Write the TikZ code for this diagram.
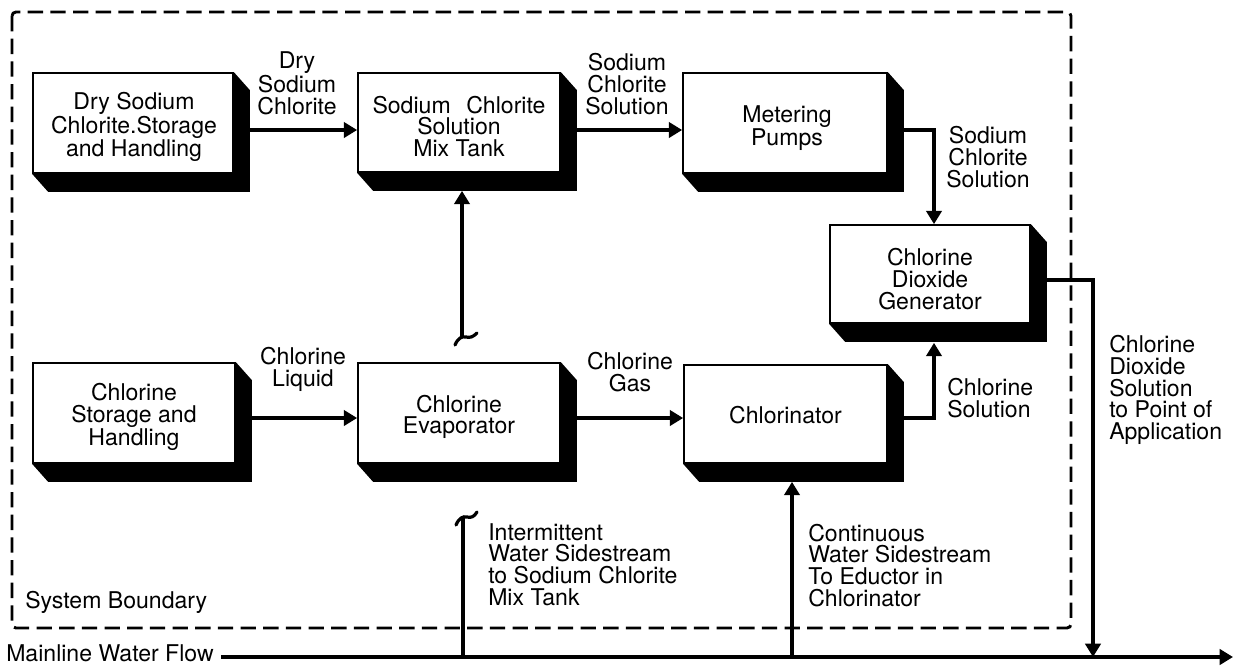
\documentclass[tikz,border=0pt]{standalone}
\usepackage{fontspec}
\setmainfont{TeX Gyre Heros}
\usetikzlibrary{arrows.meta,fit,calc}
\newcommand\diagfont{\fontsize{17.3}{16.3}\selectfont}
% solid bevelled shadow on the right and bottom of a unit box
\newcommand\castshadow[1]{%
  \fill (#1.north east) -- ++(16,18) -- ($(#1.south east)+(16,18)$)
        -- ($(#1.south west)+(16,18)$) -- (#1.south west) -- (#1.south east) -- cycle;}
\begin{document}
\begin{tikzpicture}[x=0.75pt,y=-0.75pt,
  unit/.style={draw, line width=1.3pt, fill=white, inner sep=0pt},
  unittext/.style={inner sep=0pt, align=center, font=\diagfont},
  flow/.style={line width=2.4pt, -{Triangle[length=10pt,width=11.5pt]}},
  pipe/.style={line width=2.4pt},
  lbl/.style={inner sep=0pt, font=\diagfont},
  boundary/.style={line width=2.2pt, dash pattern=on 11.5pt off 5.5pt, rounded corners=3pt}]
\useasboundingbox (0,0) rectangle (1235,668);

% system boundary
\draw[boundary] (12,12) rectangle (1071,628);
\node[lbl, anchor=base west] (sysb) at (25,608) {System Boundary};

% process units
\node[unit, fit={(33,73) (233,173)}] (dry) {};
\node[unit, fit={(358,73) (560,172)}] (mix) {};
\node[unit, fit={(683,73) (887,173)}] (meter) {};
\node[unit, fit={(830,225) (1030,323)}] (gen) {};
\node[unit, fit={(33,363) (235,463)}] (store) {};
\node[unit, fit={(358,363) (560,463)}] (evap) {};
\node[unit, fit={(684,365) (887,463)}] (chl) {};
\foreach \b in {dry,mix,meter,gen,store,evap,chl} {\castshadow{\b}}

% unit names
\node[unittext] (drytxt) at ($(dry.center)+(1,4)$) {Dry Sodium\\Chlorite.Storage\\and Handling};
\node[unittext] (mixtxt) at ($(mix.center)+(0,4)$) {Sodium\hspace{0.4em} Chlorite\\Solution\\Mix Tank};
\node[unittext] (metertxt) at ($(meter.center)+(2,5)$) {Metering\\Pumps};
\node[unittext] (gentxt) at ($(gen.center)+(0,5)$) {Chlorine\\Dioxide\\Generator};
\node[unittext] (storetxt) at ($(store.center)+(0,4)$) {Chlorine\\Storage and\\Handling};
\node[unittext] (evaptxt) at ($(evap.center)+(0,4)$) {Chlorine\\Evaporator};
\node[unittext] (chltxt) at ($(chl.center)+(0,1)$) {Chlorinator};

% mainline water flow
\coordinate (mlstart) at (221,657);
\coordinate (mlend) at (1233,657);
\coordinate (j1) at (463,657);
\coordinate (j2) at (792,657);
\coordinate (tap) at (1093,657);
\node[lbl, anchor=base west] (mainl) at (6,661) {Mainline Water Flow};
\draw[flow] (mlstart) -- (mlend);

% top row
\draw[flow] ($(dry.east)+(16,7)$) -- ($(mix.west)+(0,7.5)$);
\draw[flow] ($(mix.east)+(16,7.5)$) -- ($(meter.west)+(0,7)$);
\draw[flow] ($(meter.east)+(16,7)$) -| ($(gen.north)+(4,0)$);

% bottom row
\draw[flow] ($(store.east)+(16,5)$) -- ($(evap.west)+(0,5)$);
\draw[flow] ($(evap.east)+(16,5)$) -- ($(chl.west)+(0,4)$);
\draw[flow] ($(chl.east)+(16,4)$) -| ($(gen.south)+(4,19)$);

% generator outlet to the mainline
\draw[flow] ($(gen.east)+(16,6)$) -| (tap);

% intermittent sidestream to the mix tank (broken line)
\coordinate (brk1) at (462,337);
\coordinate (mixbot) at ($(mix.south)+(0,18)$);
\draw[flow] (brk1) -- (brk1 |- mixbot);
\begin{scope}[shift={(brk1)}]
  \draw[pipe, line cap=round] (-7,8) .. controls (-4,1) and (0,-1) .. (4,0)
        .. controls (8,1) and (11,0) .. (15,-4);
\end{scope}
\coordinate (brk2) at (463,517);
\draw[pipe] (j1) -- (brk2);
\begin{scope}[shift={(brk2)}]
  \draw[pipe, line cap=round] (-7,8) .. controls (-4,1) and (0,-1) .. (4,0)
        .. controls (8,1) and (11,0) .. (14,-5);
\end{scope}

% continuous sidestream to the chlorinator
\coordinate (chlbot) at ($(chl.south)+(0,18)$);
\draw[flow] (j2) -- (j2 |- chlbot);

% stream labels
\node[lbl, align=center, anchor=south] (l1) at (297,115) {Dry\\Sodium\\Chlorite};
\node[lbl, align=center, anchor=south] (l2) at (627,115) {Sodium\\Chlorite\\Solution};
\node[lbl, align=center, anchor=south] (l3) at (988,188) {Sodium\\Chlorite\\Solution};
\node[lbl, align=center, anchor=south] (l4) at (303,392) {Chlorine\\Liquid};
\node[lbl, align=center, anchor=south] (l5) at (630,392) {Chlorine\\Gas};
\node[lbl, align=left, anchor=south west] (l6) at (947,418) {Chlorine\\Solution};
\node[lbl, align=left, anchor=south west] (l7) at (1109,445) {Chlorine\\Dioxide\\Solution\\to Point of\\Application};
\node[lbl, align=left, anchor=south west] (l8) at (488,606) {Intermittent\\Water Sidestream\\to Sodium Chlorite\\Mix Tank};
\node[lbl, align=left, anchor=south west] (l9) at (808,607) {Continuous\\Water Sidestream\\To Eductor in\\Chlorinator};
\end{tikzpicture}
\end{document}
